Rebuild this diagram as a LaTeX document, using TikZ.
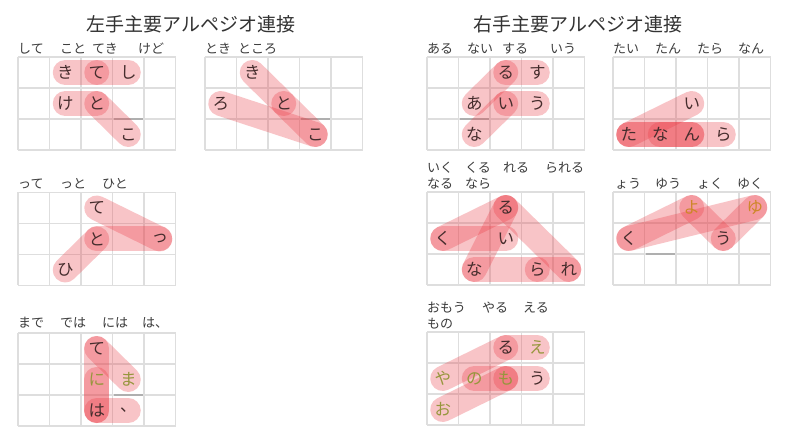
\documentclass[tikz,border=0pt]{standalone}
\usepackage{fontspec}
\newfontfamily\jp{Noto Sans CJK JP}
\definecolor{capc}{RGB}{235,60,70}
\definecolor{gridc}{RGB}{222,222,222}
\definecolor{homec}{RGB}{175,175,175}
\definecolor{txt}{RGB}{70,45,45}
\definecolor{lblc}{RGB}{60,60,60}
\definecolor{olv}{RGB}{150,150,60}
\definecolor{orng}{RGB}{205,135,40}
\pgfdeclarelayer{bglayer}
\pgfdeclarelayer{gridlayer}
\pgfdeclarelayer{caplayer}
\pgfsetlayers{bglayer,gridlayer,caplayer,main}
\tikzset{
  capsule/.style={line width=25pt, line cap=round, draw=capc, draw opacity=0.3},
  letter/.style={font=\jp\fontsize{16.5}{16.5}\selectfont, inner sep=0pt},
  lbl/.style={font=\jp\fontsize{13}{13}\selectfont, text=lblc, anchor=west, inner sep=0pt},
  ttl/.style={font=\jp\fontsize{19}{20}\selectfont, text=black!80, inner sep=0pt},
  gridline/.style={draw=gridc, line width=1.6pt},
  homeline/.style={draw=homec, line width=2.2pt}
}
\newcommand\kgrid[2]{%
  \begin{pgfonlayer}{gridlayer}
  \begin{scope}[shift={(#1,#2)}]
    \foreach \i in {0,...,5} \draw[gridline] (\i*31.5,0) -- (\i*31.5,93);
    \foreach \j in {0,...,3} \draw[gridline] (0,\j*31) -- (157.5,\j*31);
  \end{scope}
  \end{pgfonlayer}}
\newcommand\khome[3]{%
  \begin{pgfonlayer}{gridlayer}
  \draw[homeline] (#1+#3*31.5+1.5,#2+62) -- (#1+#3*31.5+30,#2+62);
  \end{pgfonlayer}}
\newcommand\kl[5][txt]{\node[letter,text=#1] (#2) at ({\gx+(#3+0.5)*31.5},{\gy+(#4+0.5)*31}) {#5};}
\newcommand\kcap[2]{\begin{pgfonlayer}{caplayer}\draw[capsule] (#1.center) -- (#2.center);\end{pgfonlayer}}
\begin{document}
\begin{tikzpicture}[x=1pt,y=-1pt]
\begin{pgfonlayer}{bglayer}
\fill[white] (0,0) rectangle (787,430);
\end{pgfonlayer}
\useasboundingbox (0,0) rectangle (787,430);

% titles
\node[ttl] (t1) at (191,24) {左手主要アルペジオ連接};
\node[ttl] (t2) at (578,24) {右手主要アルペジオ連接};

% ---------- G1
\kgrid{18}{57}\khome{18}{57}{3}
\def\gx{18}\def\gy{57}
\kl{g1ki}{1}{0}{き}\kl{g1te}{2}{0}{て}\kl{g1shi}{3}{0}{し}
\kl{g1ke}{1}{1}{け}\kl{g1to}{2}{1}{と}\kl{g1ko}{3}{2}{こ}
\kcap{g1te}{g1ki}\kcap{g1shi}{g1te}\kcap{g1ke}{g1to}\kcap{g1to}{g1ko}
\node[lbl] (l1a) at (18,49) {して};
\node[lbl] (l1b) at (60,49) {こと};
\node[lbl] (l1c) at (92,49) {てき};
\node[lbl] (l1d) at (138,49) {けど};

% ---------- G2
\kgrid{205}{57}\khome{205}{57}{3}
\def\gx{205}\def\gy{57}
\kl{g2ki}{1}{0}{き}\kl{g2to}{2}{1}{と}\kl{g2ko}{3}{2}{こ}\kl{g2ro}{0}{1}{ろ}
\kcap{g2to}{g2ki}\kcap{g2to}{g2ko}\kcap{g2ko}{g2ro}
\node[lbl] (l2a) at (205,49) {とき};
\node[lbl] (l2b) at (238,49) {ところ};

% ---------- G3
\kgrid{427}{57}\khome{427}{57}{1}
\def\gx{427}\def\gy{57}
\kl{g3ru}{2}{0}{る}\kl{g3su}{3}{0}{す}\kl{g3a}{1}{1}{あ}
\kl{g3i}{2}{1}{い}\kl{g3u}{3}{1}{う}\kl{g3na}{1}{2}{な}
\kcap{g3a}{g3ru}\kcap{g3na}{g3i}\kcap{g3su}{g3ru}\kcap{g3i}{g3u}
\node[lbl] (l3a) at (427,49) {ある};
\node[lbl] (l3b) at (467,49) {ない};
\node[lbl] (l3c) at (502,49) {する};
\node[lbl] (l3d) at (550,49) {いう};

% ---------- G4
\kgrid{613}{57}
\def\gx{613}\def\gy{57}
\kl{g4ta}{0}{2}{た}\kl{g4na}{1}{2}{な}\kl{g4n}{2}{2}{ん}\kl{g4ra}{3}{2}{ら}\kl{g4i}{2}{1}{い}
\kcap{g4ta}{g4i}\kcap{g4ta}{g4n}\kcap{g4ta}{g4ra}\kcap{g4na}{g4n}
\node[lbl] (l4a) at (613,49) {たい};
\node[lbl] (l4b) at (655,49) {たん};
\node[lbl] (l4c) at (697,49) {たら};
\node[lbl] (l4d) at (738,49) {なん};

% ---------- G5
\kgrid{18}{192.5}
\def\gx{18}\def\gy{192.5}
\kl{g5te}{2}{0}{て}\kl{g5to}{2}{1}{と}\kl{g5tsu}{4}{1}{っ}\kl{g5hi}{1}{2}{ひ}
\kcap{g5tsu}{g5te}\kcap{g5tsu}{g5to}\kcap{g5hi}{g5to}
\node[lbl] (l5a) at (18,184) {って};
\node[lbl] (l5b) at (60,184) {っと};
\node[lbl] (l5c) at (102,184) {ひと};

% ---------- G6
\kgrid{18}{333}\khome{18}{333}{3}
\def\gx{18}\def\gy{333}
\kl{g6te}{2}{0}{て}\kl[olv]{g6ni}{2}{1}{に}\kl[olv]{g6ma}{3}{1}{ま}
\kl{g6ha}{2}{2}{は}\kl{g6ten}{3}{2}{、}
\kcap{g6ma}{g6te}\kcap{g6te}{g6ha}\kcap{g6ni}{g6ha}\kcap{g6ha}{g6ten}
\node[lbl] (l6a) at (18,323) {まで};
\node[lbl] (l6b) at (60,323) {では};
\node[lbl] (l6c) at (102,323) {には};
\node[lbl] (l6d) at (142,323) {は、};

% ---------- G7
\kgrid{427}{192}
\def\gx{427}\def\gy{192}
\kl{g7ru}{2}{0}{る}\kl{g7ku}{0}{1}{く}\kl{g7i}{2}{1}{い}
\kl{g7na}{1}{2}{な}\kl{g7ra}{3}{2}{ら}\kl{g7re}{4}{2}{れ}
\kcap{g7i}{g7ku}\kcap{g7ku}{g7ru}\kcap{g7re}{g7ru}\kcap{g7ra}{g7re}\kcap{g7na}{g7ru}\kcap{g7na}{g7ra}
\node[lbl] (l7a) at (427,168) {いく};
\node[lbl] (l7b) at (465,168) {くる};
\node[lbl] (l7c) at (503,168) {れる};
\node[lbl] (l7d) at (545,168) {られる};
\node[lbl] (l7e) at (427,184) {なる};
\node[lbl] (l7f) at (465,184) {なら};

% ---------- G8
\kgrid{613}{192}\khome{613}{192}{1}
\def\gx{613}\def\gy{192}
\kl[orng]{g8yo}{2}{0}{よ}\kl[orng]{g8yu}{4}{0}{ゆ}\kl{g8ku}{0}{1}{く}\kl{g8u}{3}{1}{う}
\kcap{g8yo}{g8u}\kcap{g8yu}{g8u}\kcap{g8yo}{g8ku}\kcap{g8yu}{g8ku}
\node[lbl] (l8a) at (615,184) {ょう};
\node[lbl] (l8b) at (655,184) {ゆう};
\node[lbl] (l8c) at (697,184) {ょく};
\node[lbl] (l8d) at (737,184) {ゆく};

% ---------- G9
\kgrid{427}{332}
\def\gx{427}\def\gy{332}
\kl{g9ru}{2}{0}{る}\kl[olv]{g9e}{3}{0}{え}\kl[olv]{g9ya}{0}{1}{や}
\kl[olv]{g9no}{1}{1}{の}\kl[olv]{g9mo}{2}{1}{も}\kl{g9u}{3}{1}{う}\kl[olv]{g9o}{0}{2}{お}
\kcap{g9o}{g9mo}\kcap{g9mo}{g9u}\kcap{g9ya}{g9ru}\kcap{g9e}{g9ru}\kcap{g9mo}{g9no}
\node[lbl] (l9a) at (427,308) {おもう};
\node[lbl] (l9b) at (482,308) {やる};
\node[lbl] (l9c) at (523,308) {える};
\node[lbl] (l9d) at (427,324) {もの};
\end{tikzpicture}
\end{document}
